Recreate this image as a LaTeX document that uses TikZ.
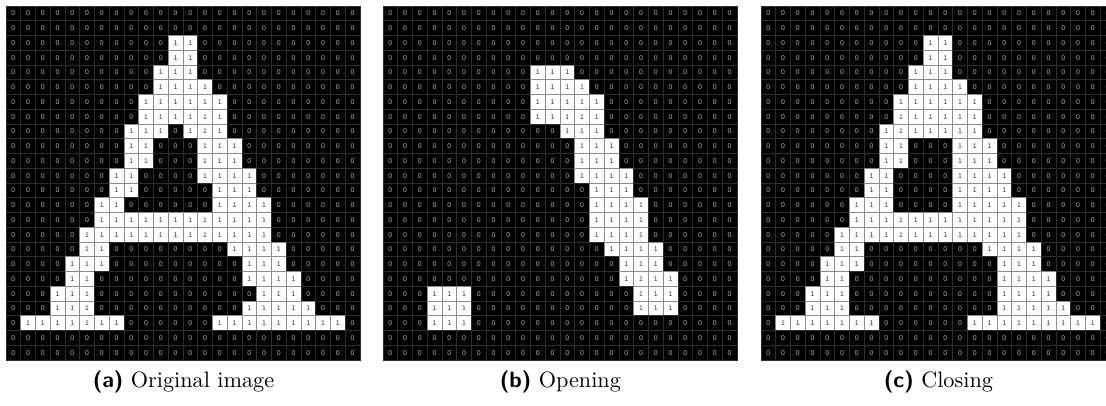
\documentclass[tikz,border=0pt]{standalone}
\usepackage{fontspec}
\newfontfamily\cellfont{Liberation Sans}
\usetikzlibrary{positioning}

% binary images, one braced row of 24 pixels per line
\def\imgorig{%
{0,0,0,0,0,0,0,0,0,0,0,0,0,0,0,0,0,0,0,0,0,0,0,0},
{0,0,0,0,0,0,0,0,0,0,0,0,0,0,0,0,0,0,0,0,0,0,0,0},
{0,0,0,0,0,0,0,0,0,0,0,1,1,0,0,0,0,0,0,0,0,0,0,0},
{0,0,0,0,0,0,0,0,0,0,0,1,1,0,0,0,0,0,0,0,0,0,0,0},
{0,0,0,0,0,0,0,0,0,0,1,1,1,0,0,0,0,0,0,0,0,0,0,0},
{0,0,0,0,0,0,0,0,0,0,1,1,1,1,0,0,0,0,0,0,0,0,0,0},
{0,0,0,0,0,0,0,0,0,1,1,1,1,1,1,0,0,0,0,0,0,0,0,0},
{0,0,0,0,0,0,0,0,0,1,1,1,1,1,1,0,0,0,0,0,0,0,0,0},
{0,0,0,0,0,0,0,0,1,1,1,0,1,1,1,0,0,0,0,0,0,0,0,0},
{0,0,0,0,0,0,0,0,1,1,0,0,0,1,1,1,0,0,0,0,0,0,0,0},
{0,0,0,0,0,0,0,0,1,1,0,0,0,1,1,1,0,0,0,0,0,0,0,0},
{0,0,0,0,0,0,0,1,1,0,0,0,0,1,1,1,1,0,0,0,0,0,0,0},
{0,0,0,0,0,0,0,1,1,0,0,0,0,0,1,1,1,0,0,0,0,0,0,0},
{0,0,0,0,0,0,1,1,0,0,0,0,0,0,1,1,1,1,0,0,0,0,0,0},
{0,0,0,0,0,0,1,1,1,1,1,1,1,1,1,1,1,1,0,0,0,0,0,0},
{0,0,0,0,0,1,1,1,1,1,1,1,1,1,1,1,1,1,0,0,0,0,0,0},
{0,0,0,0,0,1,1,0,0,0,0,0,0,0,0,1,1,1,1,0,0,0,0,0},
{0,0,0,0,1,1,1,0,0,0,0,0,0,0,0,0,1,1,1,0,0,0,0,0},
{0,0,0,0,1,1,0,0,0,0,0,0,0,0,0,0,1,1,1,1,0,0,0,0},
{0,0,0,1,1,1,0,0,0,0,0,0,0,0,0,0,0,1,1,1,0,0,0,0},
{0,0,0,1,1,1,0,0,0,0,0,0,0,0,0,0,1,1,1,1,1,0,0,0},
{0,1,1,1,1,1,1,1,0,0,0,0,0,0,1,1,1,1,1,1,1,1,1,0},
{0,0,0,0,0,0,0,0,0,0,0,0,0,0,0,0,0,0,0,0,0,0,0,0},
{0,0,0,0,0,0,0,0,0,0,0,0,0,0,0,0,0,0,0,0,0,0,0,0}}

\def\imgopen{%
{0,0,0,0,0,0,0,0,0,0,0,0,0,0,0,0,0,0,0,0,0,0,0,0},
{0,0,0,0,0,0,0,0,0,0,0,0,0,0,0,0,0,0,0,0,0,0,0,0},
{0,0,0,0,0,0,0,0,0,0,0,0,0,0,0,0,0,0,0,0,0,0,0,0},
{0,0,0,0,0,0,0,0,0,0,0,0,0,0,0,0,0,0,0,0,0,0,0,0},
{0,0,0,0,0,0,0,0,0,0,1,1,1,0,0,0,0,0,0,0,0,0,0,0},
{0,0,0,0,0,0,0,0,0,0,1,1,1,1,0,0,0,0,0,0,0,0,0,0},
{0,0,0,0,0,0,0,0,0,0,1,1,1,1,1,0,0,0,0,0,0,0,0,0},
{0,0,0,0,0,0,0,0,0,0,1,1,1,1,1,0,0,0,0,0,0,0,0,0},
{0,0,0,0,0,0,0,0,0,0,0,0,1,1,1,0,0,0,0,0,0,0,0,0},
{0,0,0,0,0,0,0,0,0,0,0,0,0,1,1,1,0,0,0,0,0,0,0,0},
{0,0,0,0,0,0,0,0,0,0,0,0,0,1,1,1,0,0,0,0,0,0,0,0},
{0,0,0,0,0,0,0,0,0,0,0,0,0,1,1,1,1,0,0,0,0,0,0,0},
{0,0,0,0,0,0,0,0,0,0,0,0,0,0,1,1,1,0,0,0,0,0,0,0},
{0,0,0,0,0,0,0,0,0,0,0,0,0,0,1,1,1,1,0,0,0,0,0,0},
{0,0,0,0,0,0,0,0,0,0,0,0,0,0,1,1,1,1,0,0,0,0,0,0},
{0,0,0,0,0,0,0,0,0,0,0,0,0,0,1,1,1,1,0,0,0,0,0,0},
{0,0,0,0,0,0,0,0,0,0,0,0,0,0,0,1,1,1,1,0,0,0,0,0},
{0,0,0,0,0,0,0,0,0,0,0,0,0,0,0,0,1,1,1,0,0,0,0,0},
{0,0,0,0,0,0,0,0,0,0,0,0,0,0,0,0,1,1,1,1,0,0,0,0},
{0,0,0,1,1,1,0,0,0,0,0,0,0,0,0,0,0,1,1,1,0,0,0,0},
{0,0,0,1,1,1,0,0,0,0,0,0,0,0,0,0,0,1,1,1,0,0,0,0},
{0,0,0,1,1,1,0,0,0,0,0,0,0,0,0,0,0,0,0,0,0,0,0,0},
{0,0,0,0,0,0,0,0,0,0,0,0,0,0,0,0,0,0,0,0,0,0,0,0},
{0,0,0,0,0,0,0,0,0,0,0,0,0,0,0,0,0,0,0,0,0,0,0,0}}

\def\imgclose{%
{0,0,0,0,0,0,0,0,0,0,0,0,0,0,0,0,0,0,0,0,0,0,0,0},
{0,0,0,0,0,0,0,0,0,0,0,0,0,0,0,0,0,0,0,0,0,0,0,0},
{0,0,0,0,0,0,0,0,0,0,0,1,1,0,0,0,0,0,0,0,0,0,0,0},
{0,0,0,0,0,0,0,0,0,0,0,1,1,0,0,0,0,0,0,0,0,0,0,0},
{0,0,0,0,0,0,0,0,0,0,1,1,1,0,0,0,0,0,0,0,0,0,0,0},
{0,0,0,0,0,0,0,0,0,0,1,1,1,1,0,0,0,0,0,0,0,0,0,0},
{0,0,0,0,0,0,0,0,0,1,1,1,1,1,1,0,0,0,0,0,0,0,0,0},
{0,0,0,0,0,0,0,0,0,1,1,1,1,1,1,0,0,0,0,0,0,0,0,0},
{0,0,0,0,0,0,0,0,1,1,1,1,1,1,1,0,0,0,0,0,0,0,0,0},
{0,0,0,0,0,0,0,0,1,1,0,0,0,1,1,1,0,0,0,0,0,0,0,0},
{0,0,0,0,0,0,0,0,1,1,0,0,0,1,1,1,0,0,0,0,0,0,0,0},
{0,0,0,0,0,0,0,1,1,0,0,0,0,1,1,1,1,0,0,0,0,0,0,0},
{0,0,0,0,0,0,0,1,1,0,0,0,0,1,1,1,1,0,0,0,0,0,0,0},
{0,0,0,0,0,0,1,1,1,0,0,0,0,1,1,1,1,1,0,0,0,0,0,0},
{0,0,0,0,0,0,1,1,1,1,1,1,1,1,1,1,1,1,0,0,0,0,0,0},
{0,0,0,0,0,1,1,1,1,1,1,1,1,1,1,1,1,1,0,0,0,0,0,0},
{0,0,0,0,0,1,1,0,0,0,0,0,0,0,0,1,1,1,1,0,0,0,0,0},
{0,0,0,0,1,1,1,0,0,0,0,0,0,0,0,0,1,1,1,0,0,0,0,0},
{0,0,0,0,1,1,0,0,0,0,0,0,0,0,0,0,1,1,1,1,0,0,0,0},
{0,0,0,1,1,1,0,0,0,0,0,0,0,0,0,0,1,1,1,1,0,0,0,0},
{0,0,0,1,1,1,0,0,0,0,0,0,0,0,0,0,1,1,1,1,1,0,0,0},
{0,1,1,1,1,1,1,1,0,0,0,0,0,0,1,1,1,1,1,1,1,1,1,0},
{0,0,0,0,0,0,0,0,0,0,0,0,0,0,0,0,0,0,0,0,0,0,0,0},
{0,0,0,0,0,0,0,0,0,0,0,0,0,0,0,0,0,0,0,0,0,0,0,0}}

% #1 image rows, #2 node prefix, #3 left edge
\newcommand{\bingrid}[3]{%
  \foreach \row [count=\rn from 0] in #1 {
    \foreach \v [count=\cn from 0] in \row
      \node[px\v] (#2-\rn-\cn) at (#3+7.4+14.75*\cn, 13.4+14.75*\rn) {\v};
  }}

\begin{document}
\begin{tikzpicture}[x=0.45pt, y=-0.45pt,
  pix/.style={minimum size=6.64pt, inner sep=0pt, line width=0.4pt,
    font=\cellfont\fontsize{3.1}{3.1}\selectfont},
  px0/.style={pix, fill=black, draw=black!82, text=black!28},
  px1/.style={pix, fill=white, draw=black!45, text=black!80},
  subcap/.style={inner sep=0pt, font=\normalsize}]
  \clip (0,0) rectangle (1106,405);

  \bingrid{\imgorig}{orig}{6}
  \bingrid{\imgopen}{open}{383}
  \bingrid{\imgclose}{close}{761}

  \node[subcap, below=4.5pt of orig-23-11.south east] (cap-orig) {\textsf{\textbf{(a)}} Original image};
  \node[subcap, below=4.5pt of open-23-11.south east] (cap-open) {\textsf{\textbf{(b)}} Opening};
  \node[subcap, below=4.5pt of close-23-11.south east] (cap-close) {\textsf{\textbf{(c)}} Closing};
\end{tikzpicture}
\end{document}
